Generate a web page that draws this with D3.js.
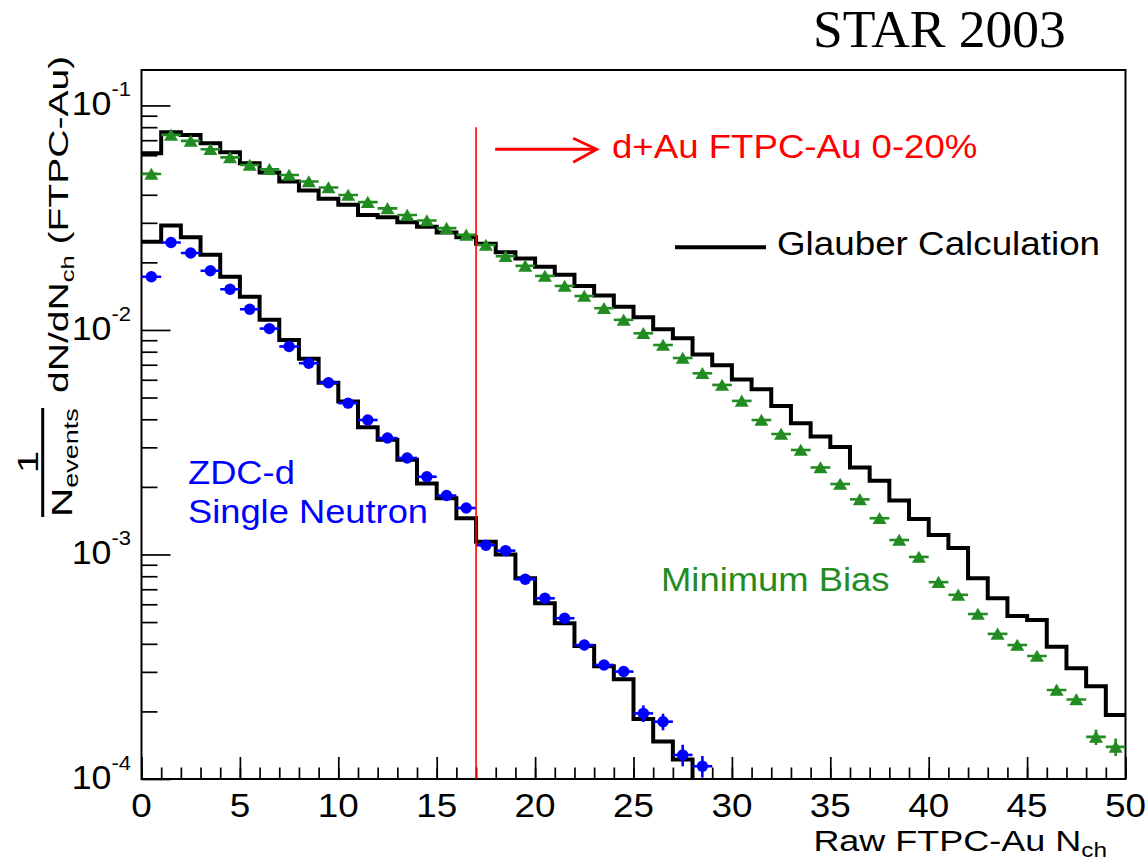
<!DOCTYPE html>
<html>
<head>
<meta charset="utf-8">
<script src="https://cdn.jsdelivr.net/npm/d3@7/dist/d3.min.js"></script>
<style>
  html, body { margin: 0; padding: 0; background: #fff; }
  svg { display: block; }
</style>
</head>
<body>
<script>
// Raw FTPC-Au charged multiplicity, unit-width bins starting at N_ch = 0
const minBias = [
  0.0495, 0.0739, 0.0695, 0.0638, 0.0587, 0.0543, 0.0520, 0.0490, 0.0458, 0.0431,
  0.0399, 0.0371, 0.0348, 0.0325, 0.0307, 0.0284, 0.0265, 0.0239, 0.0213, 0.0193,
  0.0174, 0.0157, 0.01416, 0.01250, 0.01109, 0.00966, 0.00857, 0.00750, 0.00641, 0.00569,
  0.00483, 0.00397, 0.00344, 0.00292, 0.00244, 0.00206, 0.00176, 0.00145, 0.00116, 0.000975,
  0.000753, 0.000661, 0.000543, 0.000443, 0.000395, 0.000353, 0.000249, 0.000226, 0.000154, 0.000139
];
const minBiasRelErr = [
  0.01, 0.01, 0.01, 0.01, 0.01, 0.01, 0.01, 0.01, 0.01, 0.01,
  0.01, 0.01, 0.01, 0.01, 0.01, 0.01, 0.01, 0.01, 0.01, 0.01,
  0.01, 0.01, 0.01, 0.01, 0.01, 0.01, 0.01, 0.01, 0.01, 0.01,
  0.01, 0.01, 0.01, 0.01, 0.01, 0.01, 0.01, 0.015, 0.02, 0.02,
  0.02, 0.02, 0.025, 0.025, 0.03, 0.03, 0.05, 0.05, 0.08, 0.09
];
const glauberMinBias = [
  0.0612, 0.0760, 0.0739, 0.0679, 0.0618, 0.0553, 0.0503, 0.0458, 0.0418, 0.0384,
  0.0361, 0.0325, 0.0318, 0.0302, 0.0288, 0.0272, 0.0259, 0.0242, 0.0222, 0.0208,
  0.0191, 0.0176, 0.0157, 0.01422, 0.01270, 0.01140, 0.01007, 0.00918, 0.00778, 0.00697,
  0.00602, 0.00544, 0.00458, 0.00384, 0.00335, 0.00301, 0.00244, 0.00213, 0.00174, 0.00144,
  0.00122, 0.00107, 0.000783, 0.000638, 0.000532, 0.000511, 0.000388, 0.000311, 0.000259, 0.000193
];
const zdcSingleNeutron = [
  0.01725, 0.0245, 0.0220, 0.01834, 0.01517, 0.01236, 0.01014, 0.00844, 0.00711, 0.00582,
  0.00472, 0.00397, 0.00330, 0.00269, 0.00222, 0.00183, 0.00161, 0.00110, 0.00104, 0.000776,
  0.000638, 0.000520, 0.000395, 0.000322, 0.000301, 0.000196, 0.000180, 0.000128, 0.000114
];
const zdcRelErr = [
  0.01, 0.01, 0.01, 0.01, 0.01, 0.01, 0.01, 0.01, 0.01, 0.01,
  0.01, 0.01, 0.01, 0.01, 0.01, 0.01, 0.01, 0.01, 0.02, 0.02,
  0.02, 0.03, 0.03, 0.05, 0.05, 0.085, 0.085, 0.11, 0.11
];
const glauberZdc = [
  0.0247, 0.0292, 0.0259, 0.0216, 0.01725, 0.01406, 0.01109, 0.00902, 0.00745, 0.00582,
  0.00480, 0.00369, 0.00324, 0.00264, 0.00207, 0.00178, 0.00145, 0.00114, 0.00100, 0.000783,
  0.000607, 0.000494, 0.000391, 0.000318, 0.000278, 0.000185, 0.000147, 0.000122
];
const xMajorTicks = [0, 5, 10, 15, 20, 25, 30, 35, 40, 45, 50];
const xTickLabels = ["0", "5", "10", "15", "20", "25", "30", "35", "40", "45", "50"];
const yDecadeExps = [-4, -3, -2, -1];
const yTickLabels = ["-4", "-3", "-2", "-1"];
const centralityCut = 17;          // N_ch lower edge of the 0-20% class
const cutLineTop = 0.080;
const arrowLevel = 0.0638;
const arrowFrom = 17.97, arrowTo = 23.13;

const W = 1145, H = 863;
const FONT = "'Liberation Sans', Arial, Helvetica, sans-serif";
const GREEN = "#228b22", BLUE = "#0000ff", RED = "#ff0000";
const frame = { left: 141.5, right: 1125.5, top: 70, bottom: 779 };

const x = d3.scaleLinear().domain([0, 50]).range([frame.left, frame.right]);
const y = d3.scaleLog().domain([1e-4, 0.1438]).range([frame.bottom, frame.top]);

const svg = d3.select("body").append("svg")
  .attr("width", W).attr("height", H)
  .attr("font-family", FONT);

svg.append("defs").append("clipPath").attr("id", "plotClip")
  .append("rect")
  .attr("x", frame.left).attr("y", frame.top)
  .attr("width", frame.right - frame.left).attr("height", frame.bottom - frame.top);

// horizontally stretched text helper
function label(g, px, py, str, size, color, anchor, sx) {
  return g.append("text")
    .attr("transform", `translate(${px},${py}) scale(${sx || 1.08},1)`)
    .attr("font-size", size).attr("fill", color)
    .attr("text-anchor", anchor || "start")
    .text(str);
}

// ---------- axes ----------
const axes = svg.append("g");
const yMinor = [];
yDecadeExps.forEach(e => {
  for (let m = 2; m <= 9; m++) {
    const v = m * Math.pow(10, e);
    if (v <= y.domain()[1]) yMinor.push(v);
  }
});
const yMajor = yDecadeExps.map(e => Math.pow(10, e));

function styleAxis(g) {
  g.select(".domain").remove();
  g.selectAll(".tick line").attr("stroke", "#000").attr("stroke-width", 1.7);
  g.selectAll(".tick text").remove();
}
axes.append("g").attr("transform", `translate(${frame.left},0)`)
  .call(d3.axisRight(y).tickValues(yMinor).tickSize(16).tickFormat(""))
  .call(styleAxis);
axes.append("g").attr("transform", `translate(${frame.left},0)`)
  .call(d3.axisRight(y).tickValues(yMajor).tickSize(29).tickFormat(""))
  .call(styleAxis);
axes.append("g").attr("transform", `translate(0,${frame.bottom})`)
  .call(d3.axisTop(x).tickValues(d3.range(0, 51)).tickSize(11.5).tickFormat(""))
  .call(styleAxis);
axes.append("g").attr("transform", `translate(0,${frame.bottom})`)
  .call(d3.axisTop(x).tickValues(xMajorTicks).tickSize(22).tickFormat(""))
  .call(styleAxis);

// frame
svg.append("rect")
  .attr("x", frame.left).attr("y", frame.top)
  .attr("width", frame.right - frame.left).attr("height", frame.bottom - frame.top)
  .attr("fill", "none").attr("stroke", "#000").attr("stroke-width", 2);

// tick labels
const tl = svg.append("g");
xMajorTicks.forEach((v, i) => {
  label(tl, x(v), frame.bottom + 38, xTickLabels[i], 33.5, "#000", "middle", 1.1);
});
yMajor.forEach((v, i) => {
  const t = tl.append("text")
    .attr("transform", `translate(131,${y(v) + 10}) scale(1.1,1)`)
    .attr("font-size", 32.5).attr("text-anchor", "end").attr("fill", "#000");
  t.append("tspan").text("10");
  t.append("tspan").attr("font-size", 20).attr("dy", -19).text(yTickLabels[i]);
});

// axis titles
const xt = svg.append("text")
  .attr("transform", `translate(1107,851) scale(1.22,1)`)
  .attr("font-size", 29.5).attr("text-anchor", "end").attr("fill", "#000");
xt.append("tspan").text("Raw FTPC-Au  N");
xt.append("tspan").attr("font-size", 20).attr("dy", 6).text("ch");

const ytG = svg.append("g").attr("fill", "#000");
const yt = ytG.append("text")
  .attr("transform", "translate(67.5,393) rotate(-90) scale(1.42,1)")
  .attr("font-size", 27.5);
yt.append("tspan").text("dN/dN");
yt.append("tspan").attr("font-size", 18).attr("dy", 6).text("ch");
yt.append("tspan").attr("dy", -6).text(" (FTPC-Au)");
ytG.append("text")
  .attr("transform", "translate(37.5,462) rotate(-90) scale(1.35,1)")
  .attr("font-size", 30).attr("text-anchor", "middle").text("1");
ytG.append("line")
  .attr("x1", 42.7).attr("x2", 42.7).attr("y1", 408).attr("y2", 517)
  .attr("stroke", "#000").attr("stroke-width", 3);
const den = ytG.append("text")
  .attr("transform", "translate(72,517) rotate(-90) scale(1.35,1)")
  .attr("font-size", 30);
den.append("tspan").text("N");
den.append("tspan").attr("font-size", 20).attr("dy", 6).text("events");

// ---------- data ----------
const plot = svg.append("g").attr("clip-path", "url(#plotClip)");

const step = d3.line()
  .x(d => x(d[0])).y(d => y(Math.max(d[1], 1e-6)))
  .curve(d3.curveStepAfter);

function histPoints(vals, closeToFloor) {
  const pts = vals.map((v, i) => [i, v]);
  pts.push([vals.length, vals[vals.length - 1]]);
  if (closeToFloor) pts.push([vals.length, 1e-6]);
  return pts;
}

plot.append("path").attr("d", step(histPoints(glauberMinBias, false)))
  .attr("fill", "none").attr("stroke", "#000").attr("stroke-width", 4)
  .attr("stroke-linejoin", "miter");
plot.append("path").attr("d", step(histPoints(glauberZdc, true)))
  .attr("fill", "none").attr("stroke", "#000").attr("stroke-width", 4)
  .attr("stroke-linejoin", "miter");

function drawPoints(vals, errs, color, shape) {
  const g = plot.append("g");
  vals.forEach((v, i) => {
    const cx = x(i + 0.5), cy = y(v);
    g.append("line").attr("x1", x(i)).attr("x2", x(i + 1))
      .attr("y1", cy).attr("y2", cy)
      .attr("stroke", color).attr("stroke-width", 2.6);
    g.append("line").attr("x1", cx).attr("x2", cx)
      .attr("y1", y(v * (1 + errs[i]))).attr("y2", y(v * (1 - errs[i])))
      .attr("stroke", color).attr("stroke-width", 2.6);
    if (shape === "triangle") {
      g.append("path")
        .attr("d", `M${cx},${cy - 6.3}L${cx + 7},${cy + 5.8}L${cx - 7},${cy + 5.8}Z`)
        .attr("fill", color);
    } else {
      g.append("circle").attr("cx", cx).attr("cy", cy).attr("r", 5.7).attr("fill", color);
    }
  });
}
drawPoints(minBias, minBiasRelErr, GREEN, "triangle");
drawPoints(zdcSingleNeutron, zdcRelErr, BLUE, "circle");

// centrality cut
svg.append("line")
  .attr("x1", x(centralityCut)).attr("x2", x(centralityCut))
  .attr("y1", y(cutLineTop)).attr("y2", frame.bottom)
  .attr("stroke", RED).attr("stroke-width", 1.6);
const ay = y(arrowLevel);
svg.append("line")
  .attr("x1", x(arrowFrom)).attr("x2", x(arrowTo))
  .attr("y1", ay).attr("y2", ay)
  .attr("stroke", RED).attr("stroke-width", 2.8);
svg.append("path")
  .attr("d", `M${x(arrowTo) - 23.5},${ay - 11}L${x(arrowTo)},${ay}L${x(arrowTo) - 23.5},${ay + 13}`)
  .attr("fill", "none").attr("stroke", RED).attr("stroke-width", 2.8);
label(svg, 612, 158, "d+Au FTPC-Au 0-20%", 33, RED, "start", 1.11);

// legend
svg.append("line").attr("x1", 675).attr("x2", 766).attr("y1", 247.3).attr("y2", 247.3)
  .attr("stroke", "#000").attr("stroke-width", 4);
label(svg, 777, 255, "Glauber Calculation", 33, "#000", "start", 1.115);

// in-plot labels
label(svg, 188, 484, "ZDC-d", 33, BLUE, "start", 1.1);
label(svg, 188, 523, "Single Neutron", 33, BLUE, "start", 1.1);
label(svg, 661, 591, "Minimum Bias", 32.5, GREEN, "start", 1.12);

// header
svg.append("text").attr("x", 813).attr("y", 47)
  .attr("font-family", "'Liberation Serif', 'Times New Roman', serif")
  .attr("font-size", 53.5).attr("fill", "#000").text("STAR 2003");
</script>
</body>
</html>
